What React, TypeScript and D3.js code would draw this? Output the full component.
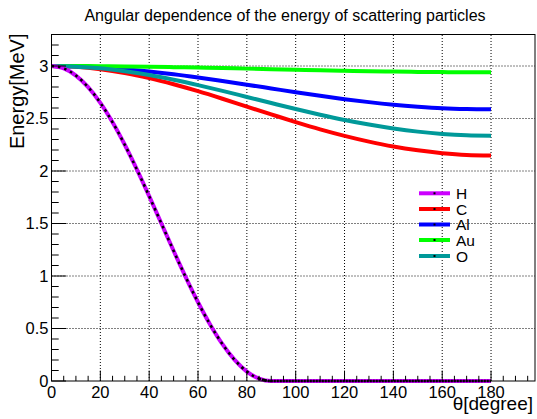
import React from "react";
import * as d3 from "d3";

const TITLE = "Angular dependence of the energy of scattering particles";
const X_LABEL = "θ[degree]";
const Y_LABEL = "Energy[MeV]";

const ANGLES = [0, 10, 20, 30, 40, 50, 60, 70, 80, 90, 100, 110, 120, 130, 140, 150, 160, 170, 180];
const H_ANGLES = [0, 5, 10, 15, 20, 25, 30, 35, 40, 45, 50, 55, 60, 65, 70, 75, 80, 85, 90, 100, 110, 120, 130, 140, 150, 160, 170, 180];

const H_ENERGY = [3, 2.977, 2.909, 2.799, 2.649, 2.464, 2.25, 2.013, 1.76, 1.5, 1.24, 0.987, 0.75, 0.536, 0.351, 0.201, 0.09, 0.023, 0, 0, 0, 0, 0, 0, 0, 0, 0, 0];
const C_ENERGY = [3, 2.992, 2.97, 2.934, 2.885, 2.826, 2.76, 2.688, 2.613, 2.539, 2.466, 2.397, 2.335, 2.28, 2.233, 2.197, 2.17, 2.153, 2.148];
const AL_ENERGY = [3, 2.997, 2.987, 2.97, 2.948, 2.922, 2.891, 2.857, 2.822, 2.786, 2.75, 2.716, 2.684, 2.656, 2.632, 2.613, 2.598, 2.59, 2.587];
const AU_ENERGY = [3, 3.0, 2.998, 2.996, 2.993, 2.989, 2.985, 2.98, 2.975, 2.97, 2.965, 2.959, 2.955, 2.95, 2.947, 2.944, 2.942, 2.94, 2.94];
const O_ENERGY = [3, 2.994, 2.978, 2.95, 2.914, 2.869, 2.818, 2.763, 2.705, 2.647, 2.59, 2.536, 2.486, 2.442, 2.405, 2.375, 2.353, 2.34, 2.336];

const X_TICKS = [0, 20, 40, 60, 80, 100, 120, 140, 160, 180];
const Y_TICKS = [0, 0.5, 1, 1.5, 2, 2.5, 3];
const Y_TICK_LABELS = ["0", "0.5", "1", "1.5", "2", "2.5", "3"];

const SERIES = [
  { name: "H", angles: H_ANGLES, values: H_ENERGY, color: "#cc00ff" },
  { name: "C", angles: ANGLES, values: C_ENERGY, color: "#ff0000" },
  { name: "Al", angles: ANGLES, values: AL_ENERGY, color: "#0000ff" },
  { name: "Au", angles: ANGLES, values: AU_ENERGY, color: "#00ff00" },
  { name: "O", angles: ANGLES, values: O_ENERGY, color: "#009999" },
];

const W = 537;
const H = 419;
const FL = 51.5, FR = 535, FT = 34.5, FB = 381;
const FONT = "'Liberation Sans', Arial, Helvetica, sans-serif";

export default function App() {
  const x = d3.scaleLinear().domain([0, 198]).range([FL, FR]);
  const y = d3.scaleLinear().domain([0, 3.3]).range([FB, FT]);

  const xMinor = d3.range(0, 198, 5);
  const yMinor = d3.range(0, 33).map((i) => i / 10);

  const lineFor = (s: any) =>
    d3
      .line<number>()
      .x((_, i) => x(s.angles[i]))
      .y((v) => y(v))
      .curve(d3.curveMonotoneX)(s.values) || "";

  const hSeries = SERIES[0];
  const hSlopeIdx = hSeries.angles.map((a, i) => i).filter((i) => hSeries.angles[i] <= 90);
  const hFlatIdx = hSeries.angles.map((a, i) => i).filter((i) => hSeries.angles[i] >= 85);
  const subPath = (idx: number[]) =>
    d3
      .line<number>()
      .x((i) => x(hSeries.angles[i]))
      .y((i) => y(hSeries.values[i]))
      .curve(d3.curveMonotoneX)(idx) || "";

  const legendY = [193.3, 209, 224.5, 240, 256];

  return (
    <svg
      width={W}
      height={H}
      style={{ position: "absolute", left: 0, top: 0, display: "block", background: "#fff" }}
      fontFamily={FONT}
    >
      <rect x={0} y={0} width={W} height={H} fill="#fff" />
      {/* grid */}
      {X_TICKS.filter((t) => t > 0).map((t) => (
        <line key={"gx" + t} x1={x(t)} x2={x(t)} y1={FB} y2={FT} stroke="#000" strokeWidth={1} strokeDasharray="1 2" />
      ))}
      {Y_TICKS.filter((t) => t > 0).map((t) => (
        <line key={"gy" + t} x1={FL} x2={FR} y1={y(t)} y2={y(t)} stroke="#000" strokeWidth={1} strokeDasharray="1 2" />
      ))}
      {/* curves */}
      {SERIES.slice(1).map((s) => (
        <path key={s.name} d={lineFor(s)} fill="none" stroke={s.color} strokeWidth={4} />
      ))}
      <path d={lineFor(hSeries)} fill="none" stroke={hSeries.color} strokeWidth={4} />
      <path d={subPath(hSlopeIdx)} fill="none" stroke="#000" strokeWidth={2.5} strokeDasharray="2.5 4" />
      <path d={subPath(hFlatIdx)} fill="none" stroke="#000" strokeWidth={2.5} strokeDasharray="2 1" />
      {/* frame */}
      <rect x={FL} y={FT} width={FR - FL} height={FB - FT} fill="none" stroke="#000" strokeWidth={1} />
      {/* x ticks */}
      {xMinor.map((t) => (
        <line
          key={"xt" + t}
          x1={x(t)}
          x2={x(t)}
          y1={FB}
          y2={FB - (t % 20 === 0 ? 10.4 : 5.2)}
          stroke="#000"
          strokeWidth={1}
        />
      ))}
      {/* y ticks */}
      {yMinor.map((t, i) => (
        <line
          key={"yt" + i}
          x1={FL}
          x2={FL + (i % 5 === 0 ? 14.5 : 7.2)}
          y1={y(t)}
          y2={y(t)}
          stroke="#000"
          strokeWidth={1}
        />
      ))}
      {/* tick labels */}
      {X_TICKS.map((t) => (
        <text key={"xl" + t} x={x(t)} y={398} fontSize={16.5} textAnchor="middle" fill="#000">
          {t}
        </text>
      ))}
      {Y_TICKS.map((t, i) => (
        <text key={"yl" + t} x={48.5} y={y(t)} dy="0.35em" fontSize={16.5} textAnchor="end" fill="#000">
          {Y_TICK_LABELS[i]}
        </text>
      ))}
      {/* axis titles */}
      <text x={533} y={409.5} fontSize={19} textAnchor="end" fill="#000">
        {X_LABEL}
      </text>
      <text transform={`translate(23.5, ${FT - 1}) rotate(-90)`} fontSize={20} textAnchor="end" fill="#000">
        {Y_LABEL}
      </text>
      {/* title */}
      <text x={285} y={21} fontSize={16} textAnchor="middle" fill="#000">
        {TITLE}
      </text>
      {/* legend */}
      {SERIES.map((s, i) => (
        <g key={"lg" + s.name}>
          <line x1={419} x2={450} y1={legendY[i]} y2={legendY[i]} stroke={s.color} strokeWidth={4} />
          <rect x={433.5} y={legendY[i] - 1} width={2} height={2} fill="#000" />
          <text x={456} y={legendY[i]} dy="0.36em" fontSize={15.5} fill="#000">
            {s.name}
          </text>
        </g>
      ))}
    </svg>
  );
}
